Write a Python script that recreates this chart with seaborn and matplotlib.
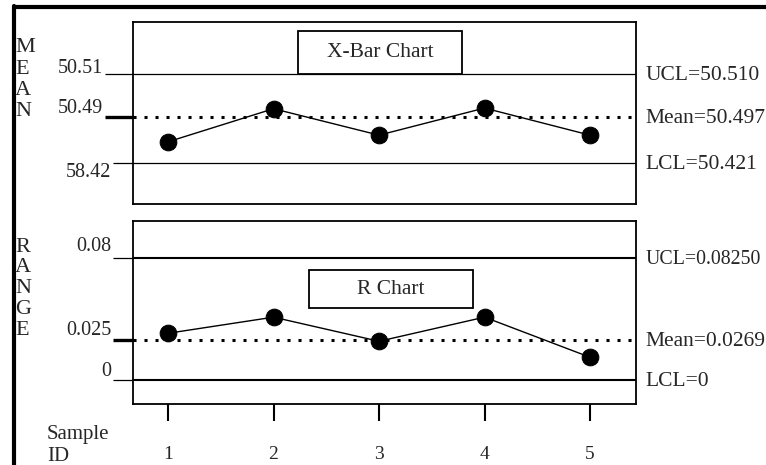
import numpy as np
import matplotlib
matplotlib.use("Agg")
import matplotlib.pyplot as plt
import matplotlib.transforms as mtransforms
from matplotlib.patches import Rectangle
from matplotlib.lines import Line2D
import seaborn as sns

# data
sample_ids = [1, 2, 3, 4, 5]
xbar_values = [50.456, 50.4995, 50.467, 50.4997, 50.467]
range_values = [0.0316, 0.0425, 0.0262, 0.0425, 0.0154]

xbar_limits = [50.510, 50.497, 50.421]      # UCL, mean, LCL
r_limits = [0.0825, 0.0269, 0.0]

xbar_left_labels = ["50.51", "50.49", "58.42"]
r_left_labels = ["0.08", "0.025", "0"]
xbar_right_labels = ["UCL=50.510", "Mean=50.497", "LCL=50.421"]
r_right_labels = ["UCL=0.08250", "Mean=0.0269", "LCL=0"]

sns.set_style("white")
plt.rcParams["font.family"] = ["Liberation Serif", "DejaVu Serif"]
FS = 15.5

fig = plt.figure(figsize=(7.66, 4.65), dpi=100)
ax1 = fig.add_axes([0.1736, 0.5613, 0.6567, 0.3914])
ax2 = fig.add_axes([0.1736, 0.1312, 0.6567, 0.3935])

# x-bar panel is not drawn to scale in the source: piecewise mapping
ucl, mean, lcl = xbar_limits
lo_slope = (mean - lcl) / 46
hi_slope = (ucl - mean) / 43
val_pts = [lcl - 41 * lo_slope, lcl, mean, ucl, ucl + 52 * hi_slope]
pos_pts = [0, 41, 87, 130, 182]


def fwd(v):
    return np.interp(v, val_pts, pos_pts)


def inv(p):
    return np.interp(p, pos_pts, val_pts)


ax1.set_yscale("function", functions=(fwd, inv))
ax1.set_ylim(val_pts[0], val_pts[-1])
ax2.set_ylim(-0.0162, 0.1075)
for ax in (ax1, ax2):
    ax.set_xlim(0.668, 5.436)
    for s in ax.spines.values():
        s.set_linewidth(1.3)
        s.set_color("black")
    ax.set_yticks([])

ax1.set_xticks([])
ax2.set_xticks(sample_ids)
ax2.tick_params(axis="x", direction="out", length=12, width=1.5,
                pad=18, labelsize=14, bottom=True, color="black")

# control lines
ax1.axhline(xbar_limits[0], color="black", lw=0.9)
ax1.axhline(xbar_limits[2], color="black", lw=0.9)
ax1.axhline(xbar_limits[1], color="black", lw=2.2, ls=(0, (1, 2.6)))
ax2.axhline(r_limits[0], color="black", lw=1.5)
ax2.axhline(r_limits[2], color="black", lw=1.5)
ax2.axhline(r_limits[1], color="black", lw=2.2, ls=(0, (1, 2.6)))

# series
sns.lineplot(x=sample_ids, y=xbar_values, ax=ax1, color="black", lw=1,
             marker="o", markersize=12, markeredgecolor="black", zorder=5)
sns.lineplot(x=sample_ids, y=range_values, ax=ax2, color="black", lw=1,
             marker="o", markersize=12, markeredgecolor="black", zorder=5)

# stubs and labels on the left, labels on the right
def side_labels(ax, levels, left, right, stub_start, stub_w, dys, rsizes):
    tr = mtransforms.blended_transform_factory(ax.transAxes, ax.transData)
    for lvl, lab, rlab, x0, w, dy, rs in zip(levels, left, right, stub_start,
                                             stub_w, dys, rsizes):
        ax.plot([x0, 0], [lvl, lvl], transform=tr, color="black", lw=w,
                clip_on=False, solid_capstyle="butt")
        ax.annotate(lab, xy=(x0, lvl), xycoords=tr, xytext=(-1, dy),
                    textcoords="offset points", ha="right", va="center",
                    fontsize=14.5)
        ax.annotate(rlab, xy=(1.018, lvl), xycoords=tr, xytext=(0, -1),
                    textcoords="offset points", ha="left", va="center",
                    fontsize=rs, annotation_clip=False)


side_labels(ax1, xbar_limits, xbar_left_labels, xbar_right_labels,
            [-0.056, -0.056, -0.040], [0.9, 2.4, 0.9], [3.6, 5.8, -6.5],
            [FS, FS, FS])
side_labels(ax2, r_limits, r_left_labels, r_right_labels,
            [-0.040, -0.040, -0.040], [0.9, 2.4, 0.9], [8, 7.2, 5.8],
            [14.3, FS, FS])

# title boxes
ax1.add_patch(Rectangle((0.328, 0.714), 0.326, 0.2363, transform=ax1.transAxes,
                        facecolor="white", edgecolor="black", lw=1.3, zorder=3))
ax1.text(0.491, 0.835, "X-Bar Chart", transform=ax1.transAxes, ha="center",
         va="center", fontsize=FS, zorder=4)
ax2.add_patch(Rectangle((0.35, 0.5246), 0.326, 0.2077, transform=ax2.transAxes,
                        facecolor="white", edgecolor="black", lw=1.3, zorder=3))
ax2.text(0.513, 0.628, "R Chart", transform=ax2.transAxes, ha="center",
         va="center", fontsize=FS, zorder=4)

# vertical axis words
for i, ch in enumerate("MEAN"):
    fig.text(15 / 766, 1 - (48 + 21 * i) / 465, ch, ha="left", va="center", fontsize=16)
for i, ch in enumerate("RANGE"):
    fig.text(15 / 766, 1 - (247 + 20.8 * i) / 465, ch, ha="left", va="center", fontsize=16)
fig.text(47 / 766, 1 - 434 / 465, "Sample", ha="left", va="center", fontsize=15)
fig.text(47 / 766, 1 - 456 / 465, "ID", ha="left", va="center", fontsize=15)

# outer frame
fig.add_artist(Line2D([14 / 766, 1], [1 - 7.5 / 465] * 2, color="black", lw=3,
                      transform=fig.transFigure))
fig.add_artist(Line2D([14 / 766] * 2, [0, 1 - 6 / 465], color="black", lw=3,
                      transform=fig.transFigure))

fig.savefig("out.png", dpi=100)
